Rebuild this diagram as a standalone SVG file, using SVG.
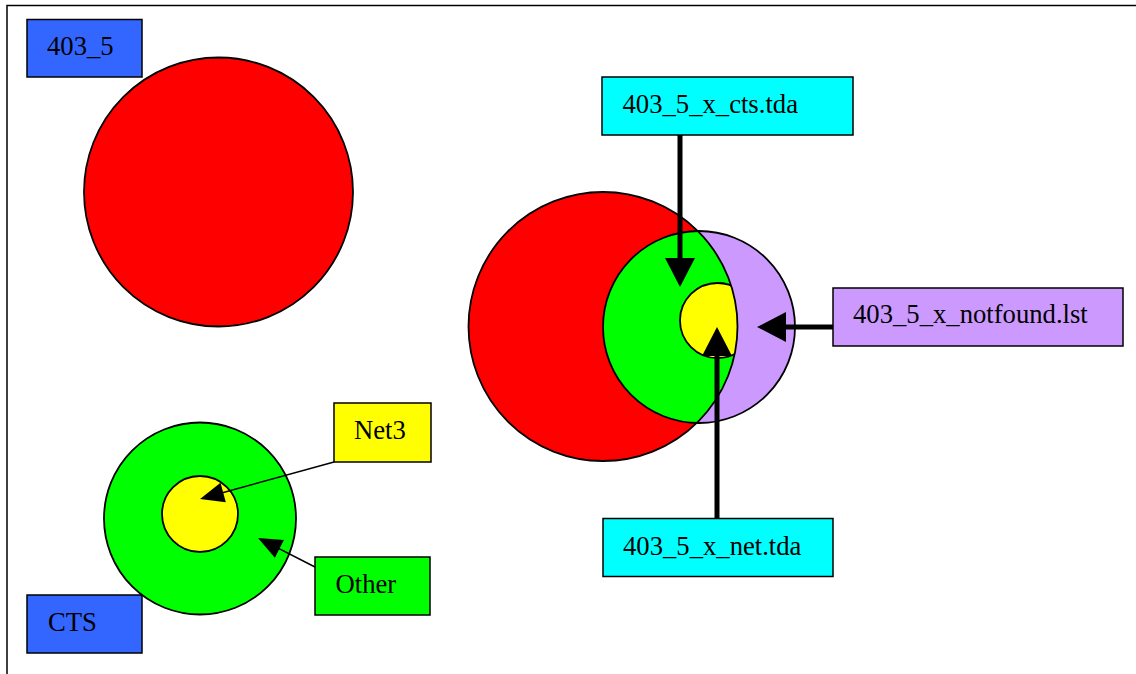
<svg xmlns="http://www.w3.org/2000/svg" width="1136" height="674" viewBox="0 0 1136 674">
<style>
.lbl{font-family:"Liberation Serif","Times New Roman",serif;font-size:26.67px;fill:#000}
.box{stroke:#000;stroke-width:1.5}
.c{stroke:#000;stroke-width:1.8}
.thick{stroke:#000;stroke-width:5;fill:none}
.thin{stroke:#000;stroke-width:1.6;fill:none}
</style>
<defs>
<marker id="ah" markerUnits="userSpaceOnUse" markerWidth="30" markerHeight="30" refX="14" refY="15" orient="auto" overflow="visible"><path d="M0,0 L29,15 L0,30 z" fill="#000"/></marker>
<marker id="ahs" markerUnits="userSpaceOnUse" markerWidth="24" markerHeight="20" refX="12" refY="10" orient="auto" overflow="visible"><path d="M0,0 L24,10 L0,20 z" fill="#000"/></marker>
<clipPath id="redclip"><circle cx="603" cy="326.5" r="134.5"/></clipPath>
</defs>
<g id="frame"><path d="M7,674 V5.5 H1136" fill="none" stroke="#000" stroke-width="1.5"/></g>
<g id="set-403_5"><circle class="c" cx="218.5" cy="192" r="134.5" fill="#FF0000"/></g>
<g id="label-403_5"><rect class="box" x="27" y="19.5" width="115" height="57.5" fill="#3366FF"/><text class="lbl" x="47" y="55">403_5</text></g>
<g id="set-cts"><circle class="c" cx="200" cy="518.5" r="96" fill="#00FF00"/><circle class="c" cx="200" cy="514" r="38" fill="#FFFF00"/></g>
<g id="label-cts"><rect class="box" x="27" y="595" width="115" height="58" fill="#3366FF"/><text class="lbl" x="48" y="630.5">CTS</text></g>
<g id="net3"><rect class="box" x="334" y="403" width="97" height="59" fill="#FFFF00"/><text class="lbl" x="354" y="439">Net3</text></g>
<g id="other"><rect class="box" x="315" y="557" width="115" height="58" fill="#00FF00"/><text class="lbl" x="335.5" y="592.5">Other</text></g>
<g id="venn">
<circle cx="603" cy="326.5" r="134.5" fill="#FF0000"/>
<circle cx="699" cy="327" r="96" fill="#CC99FF"/>
<circle cx="699" cy="327" r="96" fill="#00FF00" clip-path="url(#redclip)"/>
<g clip-path="url(#redclip)"><circle class="c" cx="717.5" cy="320.5" r="37.5" fill="#FFFF00"/></g>
<circle class="c" cx="603" cy="326.5" r="134.5" fill="none"/>
<circle class="c" cx="699" cy="327" r="96" fill="none"/>
</g>
<g id="cts-tda"><rect class="box" x="602" y="77" width="251" height="58" fill="#00FFFF"/><text class="lbl" x="622.5" y="113">403_5_x_cts.tda</text></g>
<g id="notfound"><rect class="box" x="833" y="288" width="290" height="58" fill="#CC99FF"/><text class="lbl" x="853" y="323">403_5_x_notfound.lst</text></g>
<g id="net-tda"><rect class="box" x="603" y="518.5" width="230" height="58" fill="#00FFFF"/><text class="lbl" x="623" y="554.5">403_5_x_net.tda</text></g>
<g id="connectors">
<path class="thick" d="M680,135 V272" marker-end="url(#ah)"/>
<path class="thick" d="M833,327 H772" marker-end="url(#ah)"/>
<path class="thick" d="M717,518 V342" marker-end="url(#ah)"/>
<path class="thin" d="M334,462 L211.6,495.7" marker-end="url(#ahs)"/>
<path class="thin" d="M315,567 L268.7,543.4" marker-end="url(#ahs)"/>
</g>
</svg>
